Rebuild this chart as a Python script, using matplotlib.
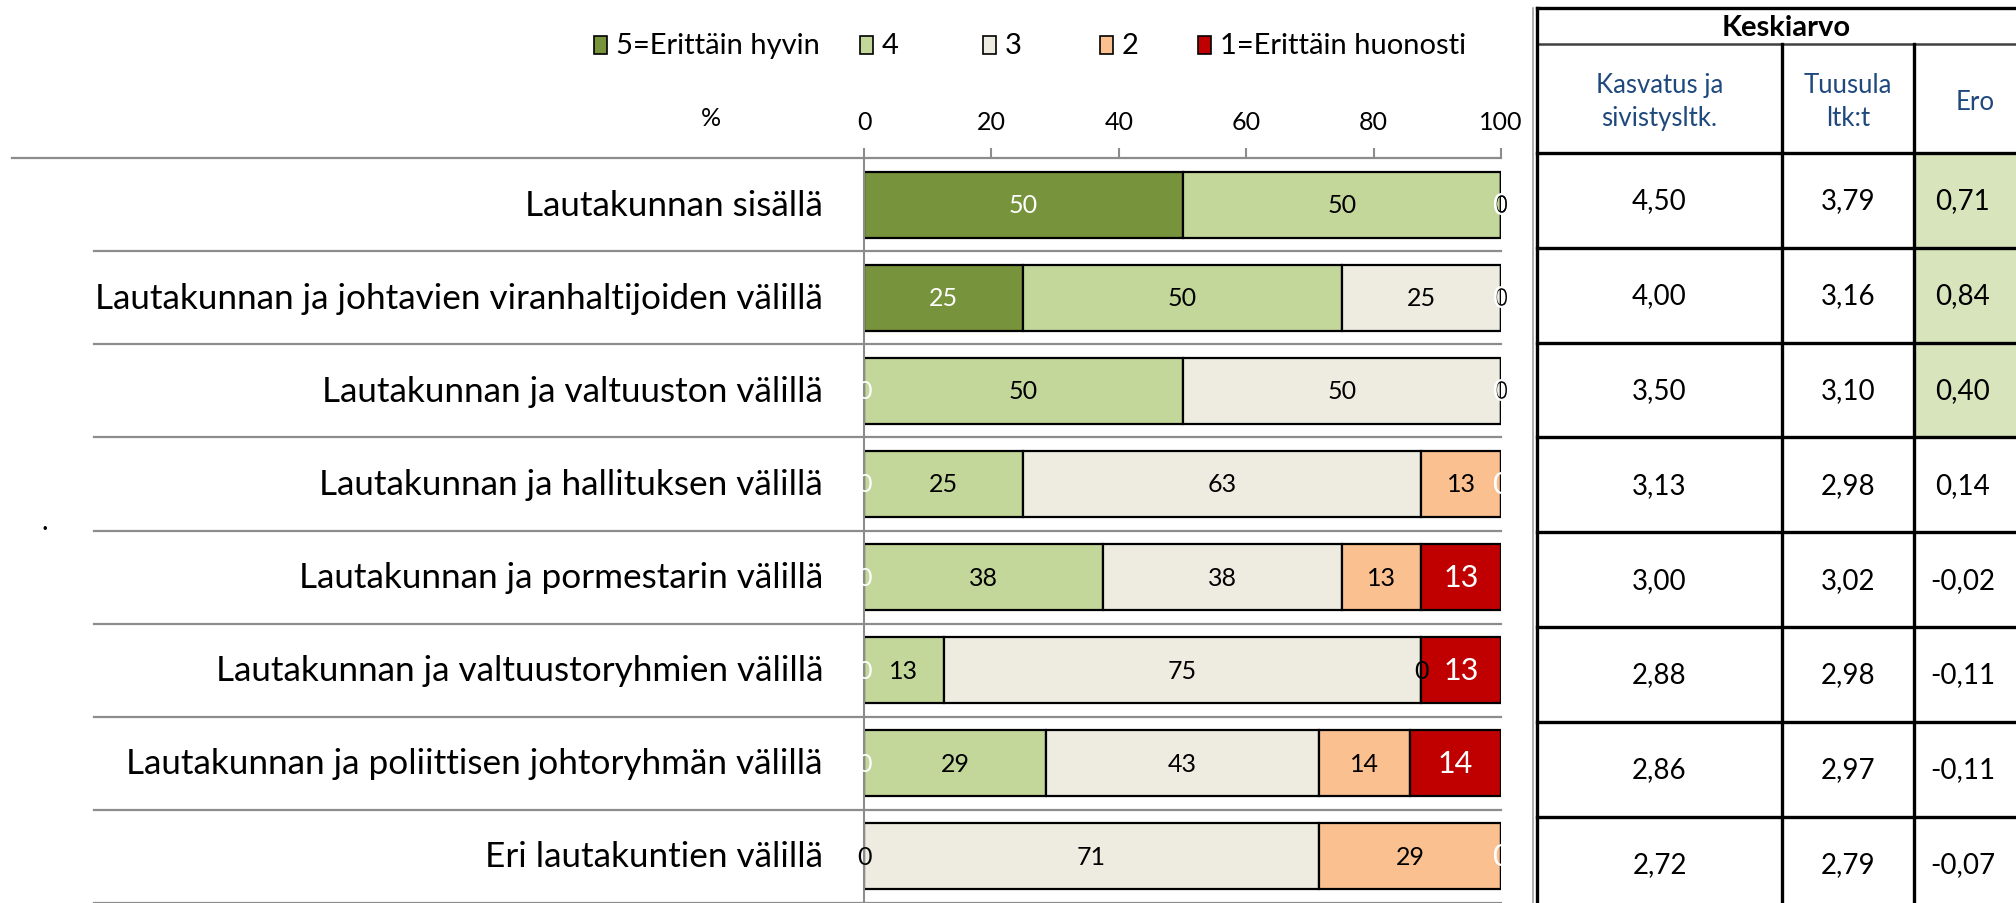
import matplotlib
matplotlib.use("Agg")
import matplotlib.pyplot as plt
from matplotlib.patches import Rectangle
from matplotlib.lines import Line2D
from matplotlib.transforms import blended_transform_factory

plt.rcParams['font.family'] = ['Lato', 'DejaVu Sans']

# --- data ---
categories = [
    "Lautakunnan sisällä",
    "Lautakunnan ja johtavien viranhaltijoiden välillä",
    "Lautakunnan ja valtuuston välillä",
    "Lautakunnan ja hallituksen välillä",
    "Lautakunnan ja pormestarin välillä",
    "Lautakunnan ja valtuustoryhmien välillä",
    "Lautakunnan ja poliittisen johtoryhmän välillä",
    "Eri lautakuntien välillä",
]
series_names = ["5=Erittäin hyvin", "4", "3", "2", "1=Erittäin huonosti"]

s5 = [50, 25, 0, 0, 0, 0, 0, 0]
s4 = [50, 50, 50, 25, 37.5, 12.5, 28.57, 0]
s3 = [0, 25, 50, 62.5, 37.5, 75, 42.86, 71.43]
s2 = [0, 0, 0, 12.5, 12.5, 0, 14.29, 28.57]
s1 = [0, 0, 0, 0, 12.5, 12.5, 14.29, 0]

mean_unit = [4.50, 4.00, 3.50, 3.13, 3.00, 2.88, 2.86, 2.72]
mean_all = [3.79, 3.16, 3.10, 2.98, 3.02, 2.98, 2.97, 2.79]
diff = [0.71, 0.84, 0.40, 0.14, -0.02, -0.11, -0.11, -0.07]

xticks = [0, 20, 40, 60, 80, 100]

# --- styles ---
colors = ["#77933c", "#c4d79b", "#eeece1", "#fac090", "#c00000"]
label_colors = ["white", "black", "black", "black", "white"]
label_sizes = [18, 18, 18, 18, 22]
grid_col = "#8c8c8c"
head_blue = "#1f497d"
ero_green = "#d8e4bc"

W, H = 2016, 904
fig = plt.figure(figsize=(W / 100, H / 100), dpi=100)


def fx(x):
    return x / W


def fy(y):
    return 1 - y / H


# bar axes in pixel layout
ax_l, ax_r, ax_t, ax_b = 864, 1501, 159, 904
ax = fig.add_axes([fx(ax_l), fy(ax_b), fx(ax_r - ax_l), (ax_b - ax_t) / H])

ypos = list(range(len(categories)))
left = [0] * len(categories)
for vals, name, c, lc, ls in zip([s5, s4, s3, s2, s1], series_names, colors, label_colors, label_sizes):
    bars = ax.barh(ypos, vals, left=left, height=0.71, color=c, edgecolor="black",
                   linewidth=1.6, label=name)
    ax.bar_label(bars, labels=[str(int(v + 0.5)) for v in vals], label_type="center",
                 color=lc, fontsize=ls)
    left = [a + b for a, b in zip(left, vals)]

ax.set_xlim(0, 100)
ax.set_ylim(len(categories) - 0.5, -0.5)
ax.xaxis.tick_top()
ax.set_xticks(xticks)
ax.tick_params(axis="x", direction="out", length=7, width=1.5, color=grid_col,
               labelsize=18, pad=11)
ax.set_yticks([])
for sp in ["top", "right", "bottom"]:
    ax.spines[sp].set_visible(False)
ax.spines["left"].set_color(grid_col)
ax.spines["left"].set_linewidth(1.5)

# category labels and row separators
tr = blended_transform_factory(fig.transFigure, ax.transData)
for i, cat in enumerate(categories):
    fig.text(fx(823), i, cat, transform=tr, ha="right", va="center", fontsize=25.3)
for k in range(len(categories) + 1):
    y = k - 0.5
    x0 = 12 if k == 0 else 94
    fig.add_artist(Line2D([fx(x0), fx(ax_r)], [y, y], transform=tr, color=grid_col, lw=1.6))

fig.text(fx(711), fy(118), "%", ha="center", va="center", fontsize=18)
fig.text(fx(45), fy(522), ".", ha="center", va="center", fontsize=20)

# legend drawn manually
leg_x = [594, 860, 983, 1100, 1198]
for x, name, c in zip(leg_x, series_names, colors):
    fig.add_artist(Rectangle((fx(x), fy(55)), fx(13), 18 / H, facecolor=c,
                             edgecolor="black", lw=1.2))
    fig.text(fx(x + 22), fy(46), name, ha="left", va="center", fontsize=21)

# --- table ---
t_l, c1, c2, t_r = 1537, 1782, 1914, 2040
t_top, h1, h2, row_h = 9, 45, 154, 94.8
n = len(categories)
row_lines = [h2 + row_h * k for k in range(n + 1)]

for i, d in enumerate(diff):
    if d >= 0.3:
        fig.add_artist(Rectangle((fx(c2), fy(row_lines[i + 1])), fx(t_r - c2),
                                 row_h / H, facecolor=ero_green, edgecolor="none"))

lw_t = 2.4
for y in [t_top, h2] + row_lines[1:]:
    fig.add_artist(Line2D([fx(t_l), fx(t_r)], [fy(y), fy(y)], color="black", lw=lw_t))
fig.add_artist(Line2D([fx(t_l), fx(t_r)], [fy(h1), fy(h1)], color="#404040", lw=1.8))
fig.add_artist(Line2D([fx(t_l - 4), fx(t_l - 4)], [fy(t_top), fy(H + 20)], color="#a0a0a0", lw=1.2))
fig.add_artist(Line2D([fx(t_l), fx(t_l)], [fy(t_top), fy(H + 20)], color="black", lw=lw_t))
for x in [c1, c2]:
    fig.add_artist(Line2D([fx(x), fx(x)], [fy(h1), fy(H + 20)], color="black", lw=lw_t))

fig.text(fx(1786), fy((t_top + h1) / 2 + 1), "Keskiarvo", ha="center",
         va="center", fontsize=21, fontweight="bold")
fig.text(fx((t_l + c1) / 2), fy(102), "Kasvatus ja\nsivistysltk.", ha="center",
         va="center", fontsize=18.5, color=head_blue, linespacing=1.4)
fig.text(fx((c1 + c2) / 2), fy(102), "Tuusula\nltk:t", ha="center",
         va="center", fontsize=18.5, color=head_blue, linespacing=1.4)
fig.text(fx(1975), fy(103), "Ero", ha="center", va="center", fontsize=18.5,
         color=head_blue)

for i in range(n):
    yc = fy(h2 + row_h * (i + 0.5))
    fig.text(fx((t_l + c1) / 2), yc, f"{mean_unit[i]:.2f}".replace(".", ","),
             ha="center", va="center", fontsize=20)
    fig.text(fx((c1 + c2) / 2), yc, f"{mean_all[i]:.2f}".replace(".", ","),
             ha="center", va="center", fontsize=20)
    fig.text(fx(1963), yc, f"{diff[i]:.2f}".replace(".", ","),
             ha="center", va="center", fontsize=20)

fig.savefig("out.png", dpi=100)
